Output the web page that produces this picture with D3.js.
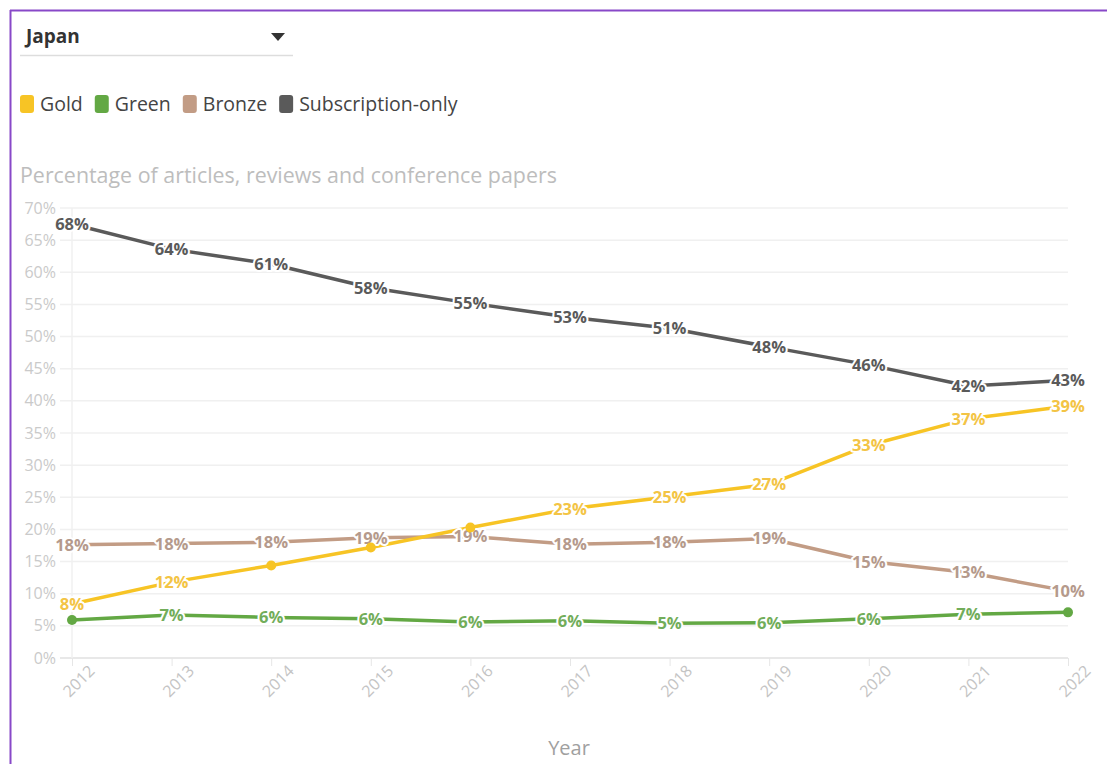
<!DOCTYPE html>
<html><head><meta charset="utf-8">
<script src="https://cdn.jsdelivr.net/npm/d3@7"></script>
<style>
html,body{margin:0;padding:0;background:#fff;}
svg{display:block;font-family:"Open Sans",sans-serif;}
</style></head>
<body>
<svg id="chart" width="1107" height="764"></svg>
<script>
const years = [2012,2013,2014,2015,2016,2017,2018,2019,2020,2021,2022];
const gold   = [8.4,11.8,14.4,17.2,20.3,23.2,25.1,27.0,33.1,37.2,39.2];
const green  = [5.9,6.7,6.3,6.1,5.6,5.8,5.4,5.5,6.1,6.8,7.1];
const bronze = [17.6,17.8,18.0,18.7,18.9,17.7,18.0,18.6,15.0,13.3,10.4];
const subscription = [67.5,63.6,61.3,57.6,55.2,53.0,51.3,48.4,45.6,42.3,43.2];
const goldLabels   = [1,1,0,0,0,1,1,1,1,1,1];
const greenLabels  = [0,1,1,1,1,1,1,1,1,1,0];
const bronzeLabels = [1,1,1,1,1,1,1,1,1,1,1];
const subLabels    = [1,1,1,1,1,1,1,1,1,1,1];
const yTicks = [0,5,10,15,20,25,30,35,40,45,50,55,60,65,70];
const legendNames = ["Gold","Green","Bronze","Subscription-only"];

const series = [
  {name:"Bronze", values:bronze, shown:bronzeLabels, color:"#c29c85", label:"#b59a8c"},
  {name:"Green", values:green, shown:greenLabels, color:"#63a844", label:"#72ad5a"},
  {name:"Gold", values:gold, shown:goldLabels, color:"#f7c425", label:"#f3c445"},
  {name:"Subscription-only", values:subscription, shown:subLabels, color:"#5a5a5a", label:"#5a5a5a"}
];
const legendColors = {"Gold":"#f7c425","Green":"#63a844","Bronze":"#c29c85","Subscription-only":"#5a5a5a"};

const svg = d3.select("#chart");

// frame
svg.append("line").attr("x1",10).attr("x2",1107).attr("y1",10.5).attr("y2",10.5).attr("stroke","#8848c8").attr("stroke-width",2);
svg.append("line").attr("x1",10.5).attr("x2",10.5).attr("y1",10).attr("y2",764).attr("stroke","#8848c8").attr("stroke-width",2);

// dropdown
svg.append("text").attr("x",26).attr("y",43).attr("font-size",19).attr("font-weight",700).attr("fill","#333").text("Japan");
svg.append("path").attr("d","M271,33 L285,33 L278,41 Z").attr("fill","#333");
svg.append("line").attr("x1",20).attr("x2",293).attr("y1",55.5).attr("y2",55.5).attr("stroke","#ddd").attr("stroke-width",1.5);

// legend
let lx = 20;
legendNames.forEach(n => {
  svg.append("rect").attr("x",lx).attr("y",95).attr("width",14).attr("height",18).attr("rx",3).attr("fill",legendColors[n]);
  const t = svg.append("text").attr("x",lx+20).attr("y",111).attr("font-size",19.5).attr("fill","#444").text(n);
  lx += 20 + t.node().getComputedTextLength() + 12;
});

// subtitle
svg.append("text").attr("x",20).attr("y",183).attr("font-size",21.4).attr("fill","#bdbdbd").text("Percentage of articles, reviews and conference papers");

const x = d3.scalePoint().domain(years).range([72,1068]);
const y = d3.scaleLinear().domain([0,70]).range([658,208]);

// grid
const yAxis = svg.append("g").attr("transform","translate(58,0)")
  .call(d3.axisLeft(y).tickValues(yTicks).tickFormat(d=>d+"%").tickSize(0).tickPadding(2));
yAxis.select(".domain").remove();
yAxis.selectAll("text").attr("font-size",16).attr("fill","#cacaca").attr("font-family","Open Sans, sans-serif");
svg.append("g").selectAll("line").data(yTicks).join("line")
  .attr("x1",60).attr("x2",1068).attr("y1",d=>y(d)).attr("y2",d=>y(d))
  .attr("stroke",d=>d===0?"#e8e8e8":"#f0f0f0").attr("stroke-width",d=>d===0?2:1.5);
svg.append("line").attr("x1",x(years[0])).attr("x2",x(years[0])).attr("y1",y(70)).attr("y2",y(0))
  .attr("stroke","#f0f0f0").attr("stroke-width",1.5);

const xAxis = svg.append("g").attr("transform","translate(0,658)")
  .call(d3.axisBottom(x).tickSize(8).tickPadding(4));
xAxis.select(".domain").remove();
xAxis.selectAll("line").attr("stroke","#e6e6e6");
xAxis.selectAll("text").attr("font-size",16).attr("fill","#c4c4c4")
  .attr("text-anchor","end").attr("dx","0.4em").attr("dy","0.9em")
  .attr("transform","rotate(-45)").attr("font-family","Open Sans, sans-serif");

svg.append("text").attr("x",569).attr("y",755).attr("text-anchor","middle").attr("font-size",20).attr("fill","#a0a0a0").text("Year");

const line = d3.line().x((d,i)=>x(years[i])).y(d=>y(d));

series.forEach(s => {
  svg.append("path").datum(s.values).attr("d",line).attr("fill","none")
    .attr("stroke",s.color).attr("stroke-width",3.5).attr("stroke-linejoin","round");
});
series.forEach(s => {
  const g = svg.append("g");
  s.values.forEach((v,i) => {
    if (s.shown[i]) {
      g.append("text").attr("x",x(years[i])).attr("y",y(v)).attr("dy","0.36em")
        .attr("text-anchor","middle").attr("font-size",16.5).attr("font-weight",700)
        .attr("fill",s.label).attr("stroke","#fff").attr("stroke-width",4)
        .attr("paint-order","stroke").attr("stroke-linejoin","round")
        .text(Math.round(v)+"%");
    } else {
      g.append("circle").attr("cx",x(years[i])).attr("cy",y(v)).attr("r",5).attr("fill",s.color);
    }
  });
});
</script>
</body></html>
